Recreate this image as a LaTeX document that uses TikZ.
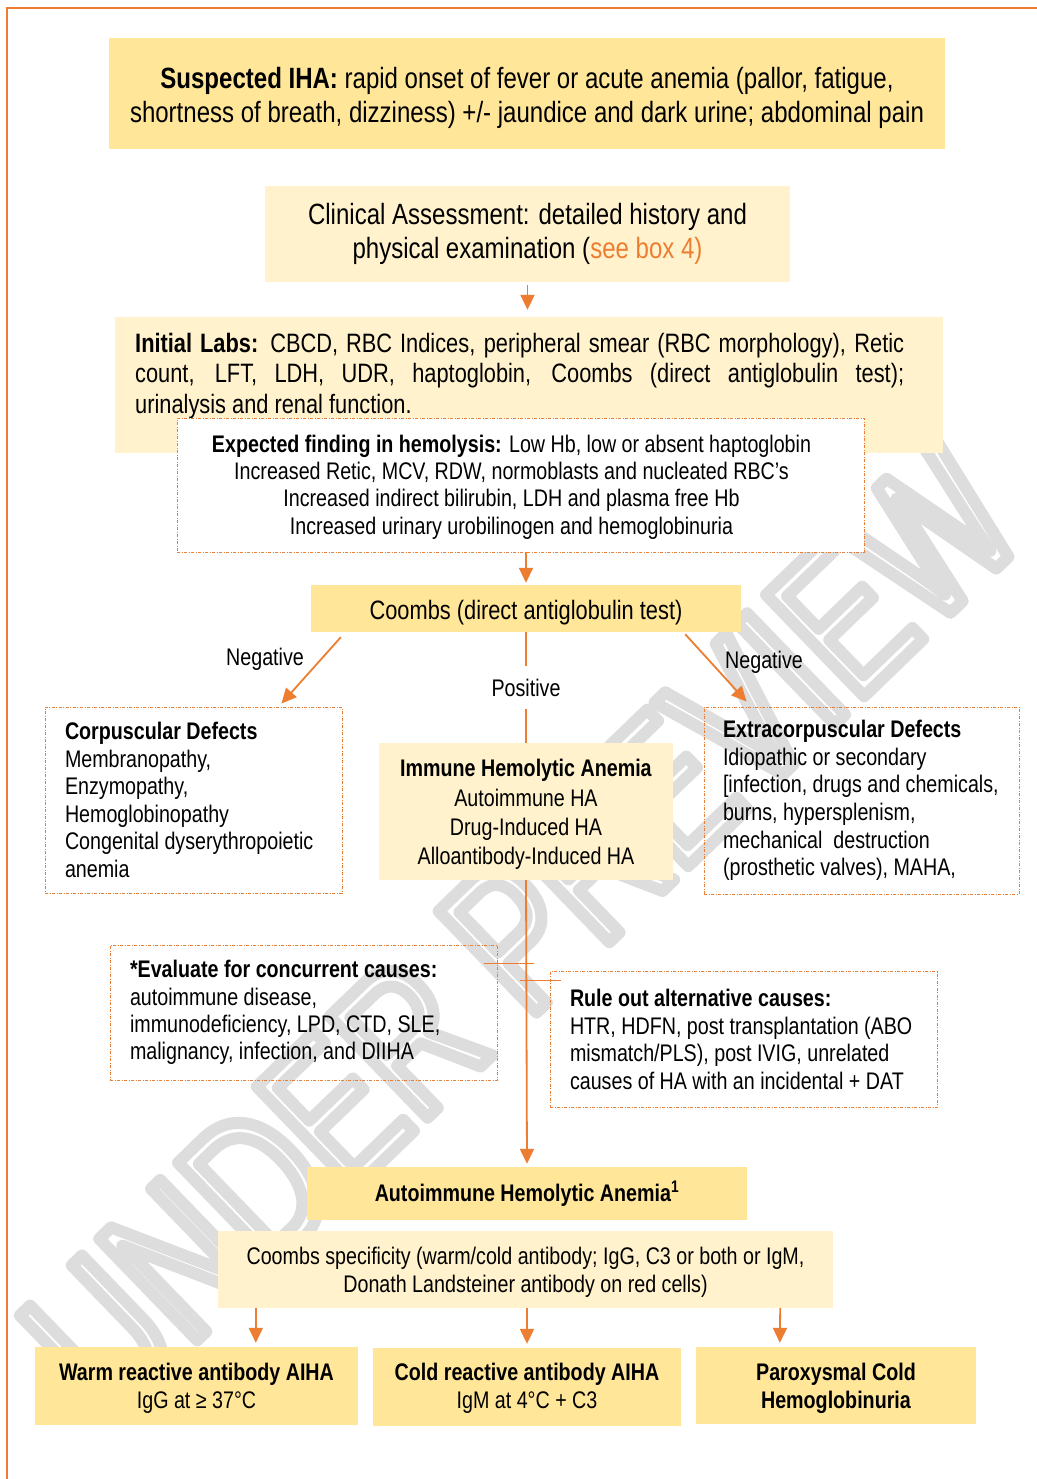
\documentclass[tikz,border=0pt]{standalone}
\usepackage{fontspec}
\setmainfont{Liberation Sans}[FakeStretch=0.82]
\newfontfamily\wmfont{Liberation Sans}[FakeStretch=0.74]
\usetikzlibrary{arrows.meta,calc}
\definecolor{gold}{HTML}{FFE699}
\definecolor{lightgold}{HTML}{FFF2CC}
\definecolor{accent}{HTML}{ED7D31}
\definecolor{wm}{HTML}{DDDDDD}
\hyphenpenalty=10000
\exhyphenpenalty=10000
\newcommand\fs[2]{\fontsize{#1}{#2}\selectfont}
\newcommand\dn[1]{\rule{0pt}{\dimexpr 0.73em+#1pt+#1pt\relax}}
\newcommand\wmstroke[1]{\special{pdf:literal direct 1 Tr 12 w 1 j 1 J 0.866 G}#1\special{pdf:literal direct 0 Tr}}
\begin{document}
\begin{tikzpicture}[x=1pt,y=-1pt,
  darkbox/.style={fill=gold, draw=none, inner sep=0pt, align=center},
  lightbox/.style={fill=lightgold, draw=none, inner sep=0pt, align=center},
  dashbox/.style={draw=accent, line width=0.9pt, dash pattern=on 3pt off 1.5pt on 1pt off 1.5pt, inner sep=0pt},
  arr/.style={draw=accent, line width=1.8pt, -{Triangle[length=15pt,width=14pt]}},
  conn/.style={draw=accent, line width=1.8pt},
  tick/.style={draw=accent, line width=1.2pt},
  lbl/.style={font=\fs{24}{28}, inner sep=2pt},
  ]
\useasboundingbox (0,0) rectangle (1036,1479);
\fill[white] (0,0) rectangle (1036,1479);
% watermark
\node[rotate=44, inner sep=0pt, text=wm, font=\wmfont\fs{205}{205}] (wmark) at (522,930) {\wmstroke{UNDER PREVIEW}};
% frame
\draw[accent, line width=1.5pt] (7,1490) -- (7,8) -- (1045,8);

\node[darkbox, minimum width=836, minimum height=111, font=\fs{29.3}{34}] (ihs) at (527,93.5)
  {\dn{4}\textbf{Suspected IHA:} rapid onset of fever or acute anemia (pallor, fatigue,\\ shortness of breath, dizziness) +/- jaundice and dark urine; abdominal pain};
\node[lightbox, minimum width=525, minimum height=96, font=\fs{29.3}{34}] (clin) at (527.5,234)
  {Clinical Assessment: detailed history and\\ physical examination (\textcolor{accent}{see box 4)}};
\node[lightbox, minimum width=828, minimum height=136] (labs) at (529,385) {};
\node[anchor=base west, inner sep=0pt, text width=769, align=justify, font=\fs{26.6}{30.5}] (labstext) at (135,352)
  {\textbf{Initial Labs:} CBCD, RBC Indices, peripheral smear (RBC morphology), Retic\linebreak count, LFT, LDH, UDR, haptoglobin, Coombs (direct antiglobulin test);\linebreak urinalysis and renal function.};
\node[dashbox, fill=white, minimum width=687, minimum height=134] (exp) at (520.5,485) {};
\node[inner sep=0pt, align=center, font=\fs{24}{27.3}] (exptext) at (511.5,487)
  {\textbf{Expected finding in hemolysis:} Low Hb, low or absent haptoglobin\\ Increased Retic, MCV, RDW, normoblasts and nucleated RBC’s\\ Increased indirect bilirubin, LDH and plasma free Hb\\ Increased urinary urobilinogen and hemoglobinuria};
\node[darkbox, minimum width=430, minimum height=47, font=\fs{26.6}{30}] (coombs) at (526,608.5) {\dn{4}Coombs (direct antiglobulin test)};

\node[lightbox, minimum width=294, minimum height=137, font=\fs{24}{29.3}] (imm) at (526,811.5)
  {\dn{3}\textbf{Immune Hemolytic Anemia}\\ Autoimmune HA\\ Drug-Induced HA\\ Alloantibody-Induced HA};
\node[dashbox, minimum width=297, minimum height=186, text width=257, align=flush left, font=\fs{24}{27.6}] (corp) at (193.5,800)
  {\textbf{Corpuscular Defects}\\ Membranopathy,\\ Enzymopathy,\\ Hemoglobinopathy\\ Congenital~dyserythropoietic\\ anemia};
\node[dashbox, minimum width=315, minimum height=187, text width=277, align=flush left, font=\fs{24}{27.6}] (extra) at (861.5,800.5)
  {\textbf{Extracorpuscular~Defects}\\ Idiopathic or secondary\\ {[}infection,~drugs~and~chemicals,\\ burns, hypersplenism,\\ mechanical~~destruction\\ (prosthetic valves), MAHA,};
\node[dashbox, minimum width=387, minimum height=135, text width=347, align=flush left, font=\fs{24}{27.3}] (eval) at (303.5,1012.5)
  {\textbf{*Evaluate for concurrent causes:}\\ autoimmune disease,\\ immunodeficiency, LPD, CTD, SLE,\\ malignancy, infection, and DIIHA};
\node[dashbox, minimum width=387, minimum height=136, text width=347, align=flush left, font=\fs{24}{27.7}] (rule) at (743.5,1039.5)
  {\textbf{Rule out alternative causes:}\\ HTR,~HDFN,~post~transplantation~(ABO\\ mismatch/PLS), post IVIG, unrelated\\ causes~of~HA~with~an~incidental~+~DAT};

\node[darkbox, minimum width=440, minimum height=53, font=\fs{24}{28}] (aiha) at (527,1193.5) {\textbf{Autoimmune Hemolytic Anemia\textsuperscript{1}}};
\node[lightbox, minimum width=615, minimum height=77, font=\fs{24}{28}] (spec) at (525.5,1269.5)
  {\dn{3}Coombs specificity (warm/cold antibody; IgG, C3 or both or IgM,\\ Donath Landsteiner antibody on red cells)};
\node[darkbox, minimum width=323, minimum height=78, font=\fs{24}{28}] (warm) at (196.5,1386) {\dn{2}\textbf{Warm reactive antibody AIHA}\\ IgG at ≥ 37°C};
\node[darkbox, minimum width=308, minimum height=78, font=\fs{24}{28}] (cold) at (527,1387) {\dn{1}\textbf{Cold reactive antibody AIHA}\\ IgM at 4°C + C3};
\node[darkbox, minimum width=280, minimum height=77, font=\fs{24}{28}] (pch) at (836,1385.5) {\dn{3}\textbf{Paroxysmal Cold}\\ \textbf{Hemoglobinuria}};

% labels
\node[lbl] (neg1) at (265,659) {Negative};
\node[lbl] (neg2) at (764,662) {Negative};

% connectors
\draw[arr, shorten <=3pt, shorten >=7pt] (clin.south) -- (clin.south |- labs.north);
\draw[arr, shorten >=2pt] (coombs.north |- exp.south) -- (coombs.north);
\draw[arr] ($(coombs.south west)+(30,5)$) -- ($(corp.north east)+(-61,-3)$);
\draw[arr] ($(coombs.south east)+(-56,2)$) -- ($(extra.north west)+(43,-5)$);
\draw[conn] (coombs.south) -- node[fill=white, font=\fs{24}{28}, inner xsep=2pt, inner ysep=13pt] (pos) {Positive} (imm.north);
\draw[arr, shorten >=3pt] (imm.south) -- (aiha.north);
\draw[tick] ($(eval.north east)+(-13,19)$) -- ++(50,0);
\draw[tick] ($(rule.north west)+(-30,9.5)$) -- ++(41,0);
\draw[arr, shorten >=4pt] ($(spec.south west)+(38,0)$) -- ($(warm.north west)+(221,0)$);
\draw[arr, shorten >=4pt] (spec.south -| cold.north) -- (cold.north);
\draw[arr, shorten >=4pt] ($(spec.south east)+(-53,0)$) -- ($(pch.north west)+(84,0)$);
\end{tikzpicture}
\end{document}
